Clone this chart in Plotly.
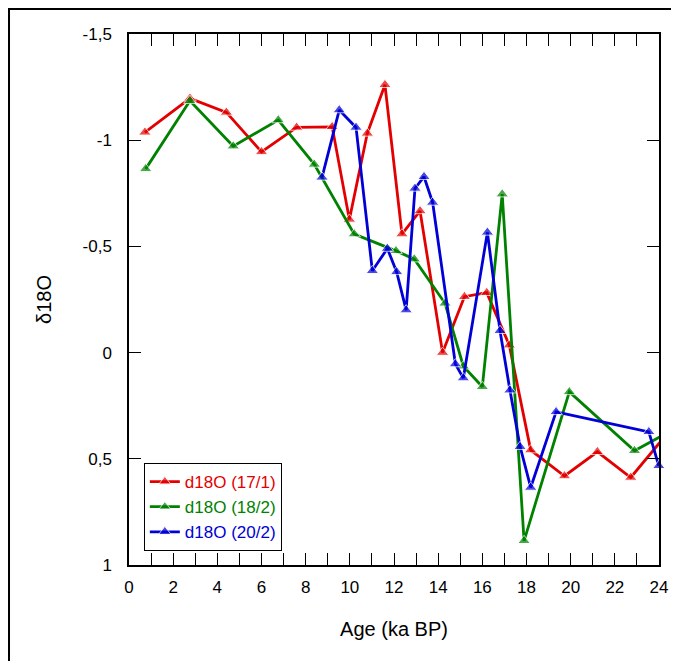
import plotly.graph_objects as go

# Data
age_17_1 = [0.72, 2.76, 4.41, 6.0, 7.59, 9.2, 9.98, 10.79, 11.59, 12.36, 13.18, 14.2,
            15.19, 16.2, 17.22, 18.19, 19.72, 21.21, 22.72, 24.4]
d18o_17_1 = [-1.037, -1.197, -1.131, -0.945, -1.06, -1.063, -0.627, -1.032, -1.261, -0.558,
             -0.667, 0.0, -0.263, -0.282, -0.035, 0.459, 0.581, 0.467, 0.588, 0.378]

age_18_2 = [0.756, 2.76, 4.72, 6.76, 8.39, 10.2, 12.09, 12.92, 14.31, 15.14, 16.0, 16.9,
            17.89, 19.94, 22.89, 24.4]
d18o_18_2 = [-0.865, -1.186, -0.972, -1.095, -0.886, -0.558, -0.479, -0.44, -0.232, 0.064,
             0.161, -0.746, 0.886, 0.185, 0.462, 0.376]

age_20_2 = [8.74, 9.52, 10.28, 11.02, 11.7, 12.12, 12.55, 12.95, 13.36, 13.75, 14.78, 15.14,
            16.23, 16.8, 17.25, 17.71, 18.19, 19.34, 23.54, 23.99]
d18o_20_2 = [-0.825, -1.142, -1.06, -0.385, -0.49, -0.38, -0.2, -0.773, -0.828, -0.707, 0.054,
             0.12, -0.566, -0.103, 0.177, 0.443, 0.635, 0.279, 0.373, 0.533]

x_tick_vals = list(range(0, 25))
x_tick_text = [str(v) if v % 2 == 0 else "" for v in x_tick_vals]
y_tick_vals = [-1.5, -1, -0.5, 0, 0.5, 1]
y_tick_text = ["-1,5", "-1", "-0,5", "0", "0,5", "1"]

series = [
    ("d18O (17/1)", age_17_1, d18o_17_1, "rgb(228,0,0)"),
    ("d18O (18/2)", age_18_2, d18o_18_2, "rgb(0,130,0)"),
    ("d18O (20/2)", age_20_2, d18o_20_2, "rgb(0,0,215)"),
]

FONT = "Liberation Sans, Arial, sans-serif"

fig = go.Figure()
for name, xs, ys, col in series:
    sizes = [11 if x <= 24 else 0 for x in xs]
    fig.add_trace(go.Scatter(
        x=xs, y=ys, mode="lines+markers",
        name=f'<span style="color:{col}">{name}</span>',
        line=dict(color=col, width=2.8),
        marker=dict(symbol="triangle-up", size=sizes, color=col),
        cliponaxis=False,
    ))

axis_common = dict(
    showline=True, linecolor="black", linewidth=1.5, mirror="ticks",
    ticks="inside", ticklen=12, tickwidth=1.2, tickcolor="black",
    showgrid=False, zeroline=False,
    tickfont=dict(family=FONT, size=17, color="black"),
)

fig.update_layout(
    width=671, height=653,
    margin=dict(l=121, r=20, t=26, b=96),
    paper_bgcolor="white", plot_bgcolor="white",
    font=dict(family=FONT, color="black"),
    showlegend=True,
    legend=dict(
        x=0.028, y=0.192, xanchor="left", yanchor="top",
        bgcolor="white", bordercolor="black", borderwidth=1,
        font=dict(size=17), tracegroupgap=0,
    ),
    xaxis=dict(range=[0, 24], tickvals=x_tick_vals, ticktext=x_tick_text,
               ticklabelstandoff=6,
               title=dict(text="Age (ka BP)", font=dict(size=20), standoff=26),
               **axis_common),
    yaxis=dict(range=[1, -1.5], tickvals=y_tick_vals, ticktext=y_tick_text,
               ticklabelstandoff=12,
               title=dict(text="δ18O", font=dict(size=20), standoff=26),
               **axis_common),
    shapes=[dict(type="rect", xref="paper", yref="paper",
                 x0=-0.2264, x1=1.3, y0=-0.4, y1=1.047,
                 line=dict(color="black", width=2), layer="below")],
)

fig.write_html("out.html")
